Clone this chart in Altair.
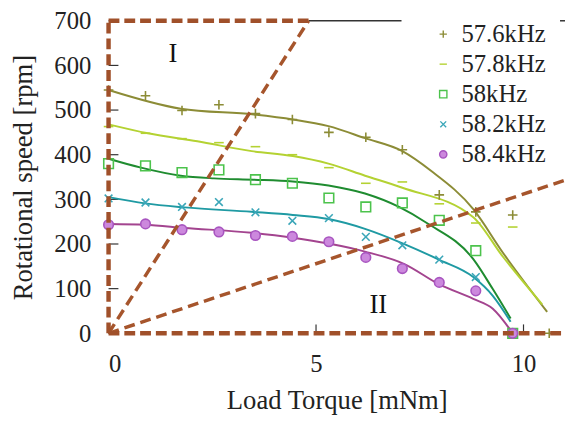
import altair as alt
import pandas as pd

series = ["57.6kHz", "57.8kHz", "58kHz", "58.2kHz", "58.4kHz"]

# measured points (markers)
pts_x = {
    "57.6kHz": [0, 0.89, 1.77, 2.66, 3.54, 4.43, 5.31, 6.2, 7.08, 7.97, 8.85, 9.74, 10.62],
    "57.8kHz": [0, 0.89, 1.77, 2.66, 3.54, 4.43, 5.31, 6.2, 7.08, 7.97, 8.85, 9.74],
    "58kHz":   [0, 0.89, 1.77, 2.66, 3.54, 4.43, 5.31, 6.2, 7.08, 7.97, 8.85, 9.74],
    "58.2kHz": [0, 0.89, 1.77, 2.66, 3.54, 4.43, 5.31, 6.2, 7.08, 7.97, 8.85, 9.74],
    "58.4kHz": [0, 0.89, 1.77, 2.66, 3.54, 4.43, 5.31, 6.2, 7.08, 7.97, 8.85, 9.74],
}
pts_y = {
    "57.6kHz": [545, 532, 499, 512, 492, 479, 450, 439, 411, 310, 272, 265, 0],
    "57.8kHz": [463, 448, 436, 427, 418, 400, 371, 336, 339, 290, 247, 238],
    "58kHz":   [380, 375, 360, 366, 344, 336, 303, 283, 292, 253, 185, 0],
    "58.2kHz": [302, 293, 283, 294, 271, 252, 258, 216, 197, 165, 126, 0],
    "58.4kHz": [243, 245, 232, 227, 219, 217, 205, 170, 145, 114, 95, 0],
}

# fitted curves
fit_x = {
    "57.6kHz": [0, 1.74, 3.5, 4.44, 5.3, 6.18, 7.08, 7.77, 8.79, 9.5, 10.57],
    "57.8kHz": [0, 0.95, 2.14, 3.45, 4.44, 5.3, 6.18, 7.08, 8.79, 9.5, 10.45],
    "58kHz":   [0, 0.78, 1.74, 2.54, 3.5, 4.44, 5.3, 6.18, 7.0, 7.67, 8.79, 9.26, 9.69],
    "58.2kHz": [0, 0.88, 1.83, 3.45, 4.44, 5.3, 6.18, 7.1, 7.96, 8.79, 9.26, 9.69],
    "58.4kHz": [0, 0.88, 1.83, 3.45, 4.44, 5.3, 6.18, 7.13, 7.96, 8.79, 9.26, 9.74],
}
fit_y = {
    "57.6kHz": [545, 503, 490, 479, 464, 437, 408, 364, 278, 181, 48],
    "57.8kHz": [468, 448, 430, 408, 397, 380, 353, 326, 260, 172, 65],
    "58kHz":   [391, 371, 353, 347, 344, 340, 331, 313, 283, 247, 166, 99, 33],
    "58.2kHz": [305, 291, 282, 272, 265, 256, 234, 201, 165, 126, 84, 26],
    "58.4kHz": [245, 243, 236, 225, 214, 201, 183, 155, 110, 77, 55, 0],
}

# dashed frame (region I / II boundaries)
frame_dash_id = ["top", "top", "left", "left", "bottom", "bottom"]
frame_dash_x = [0, 4.82, 0, 0, 0, 11]
frame_dash_y = [700, 700, 0, 700, 0, 0]
diag_id = ["I", "I", "II", "II"]
diag_x = [0, 4.82, 0, 11]
diag_y = [0, 700, 0, 343]

# thin top frame line (interrupted by the legend)
frame_id = ["a", "a", "b", "b"]
frame_x = [4.82, 7.06, 10.88, 11]
frame_y = [700, 700, 700, 700]

region_text = ["I", "II"]
region_x = [1.55, 6.5]
region_y = [625, 62]

x_ticks = [0, 5, 10]
y_ticks = [0, 100, 200, 300, 400, 500, 600, 700]

line_colors = ["#8c8c36", "#b4d232", "#1f8c30", "#1f9aa3", "#a3448f"]
stroke_colors = ["#8c8c36", "#b4d232", "#4cc34c", "#3aa6b8", "#a855c0"]
fill_colors = ["transparent", "transparent", "transparent", "transparent", "#cc88dd"]
shapes = ["M-1,0H1M0,-1V1", "M-1,0H1", "square", "M-0.8,-0.8L0.8,0.8M-0.8,0.8L0.8,-0.8", "circle"]

pts = pd.DataFrame([
    {"series": s, "torque": x, "speed": y}
    for s in series for x, y in zip(pts_x[s], pts_y[s])
])
fits = pd.DataFrame([
    {"curve": s, "torque": x, "speed": y, "order": i}
    for s in series for i, (x, y) in enumerate(zip(fit_x[s], fit_y[s]))
])
fdash = pd.DataFrame({"id": frame_dash_id, "torque": frame_dash_x, "speed": frame_dash_y})
diags = pd.DataFrame({"id": diag_id, "torque": diag_x, "speed": diag_y})
frame = pd.DataFrame({"id": frame_id, "torque": frame_x, "speed": frame_y})
regions = pd.DataFrame({"label": region_text, "torque": region_x, "speed": region_y})
yt = pd.DataFrame({"speed": y_ticks})
xt = pd.DataFrame({"torque": x_ticks})

xs = alt.Scale(domain=[0, 11], nice=False)
ys = alt.Scale(domain=[0, 700], nice=False)
X = alt.X("torque:Q", scale=xs,
          axis=alt.Axis(values=x_ticks, title="Load Torque [mNm]", labelPadding=19, titlePadding=11))
Y = alt.Y("speed:Q", scale=ys,
          axis=alt.Axis(values=y_ticks, title="Rotational speed [rpm]", labelPadding=18, titlePadding=17))

# line colour scale uses a reversed domain so its (hidden) legend is not merged with the marker legend
lines = alt.Chart(fits).mark_line(strokeWidth=2, interpolate="monotone").encode(
    x=X, y=Y,
    color=alt.Color("curve:N", scale=alt.Scale(domain=series[::-1], range=line_colors[::-1]), legend=None),
    order="order:Q",
)

leg = alt.Legend(title=None, orient="none", legendX=307, legendY=-5)
points = alt.Chart(pts).mark_point(size=95, strokeWidth=1.6, opacity=1).encode(
    x=X, y=Y,
    stroke=alt.Stroke("series:N", scale=alt.Scale(domain=series, range=stroke_colors), legend=leg),
    fill=alt.Fill("series:N", scale=alt.Scale(domain=series, range=fill_colors), legend=leg),
    shape=alt.Shape("series:N", scale=alt.Scale(domain=series, range=shapes), legend=leg),
)

dash_frame = alt.Chart(fdash).mark_line(color="#a0502a", strokeWidth=4.5, strokeDash=[11, 5]).encode(
    x=X, y=Y, detail="id:N"
)
dash_diag = alt.Chart(diags).mark_line(color="#a6552c", strokeWidth=3.5, strokeDash=[11, 6]).encode(
    x=X, y=Y, detail="id:N"
)
frame_line = alt.Chart(frame).mark_line(color="#333", strokeWidth=1.5).encode(
    x=X, y=Y, detail="id:N"
)

ytick = alt.Chart(yt).mark_rule(color="#333", strokeWidth=1.2).encode(
    y=Y, x=alt.value(0), x2=alt.value(10)
)
xtick = alt.Chart(xt).mark_rule(color="#333", strokeWidth=1.2).encode(
    x=X, y=alt.value(317), y2=alt.value(308)
)

rtext = alt.Chart(regions).mark_text(font="Liberation Serif", fontSize=27, color="#111").encode(
    x=X, y=Y, text="label:N"
)

chart = alt.layer(ytick, xtick, frame_line, lines, points, dash_diag, dash_frame, rtext).properties(
    width=463, height=317,
    autosize=alt.AutoSizeParams(type="none"),
    padding={"left": 102, "top": 10, "right": 0, "bottom": 85},
).configure_view(strokeWidth=0).configure_axis(
    domain=False, ticks=False, grid=False,
    labelFont="Liberation Serif", labelFontSize=25, labelColor="#222",
    titleFont="Liberation Serif", titleFontSize=27, titleFontWeight="normal", titleColor="#222",
).configure_legend(
    labelFont="Liberation Serif", labelFontSize=25, labelColor="#222",
    padding=6, symbolSize=55, symbolStrokeWidth=1.4,
    symbolOffset=14, rowPadding=4.5, labelOffset=6,
)

chart.save("out.html", embed_options={"renderer": "svg", "actions": False})
